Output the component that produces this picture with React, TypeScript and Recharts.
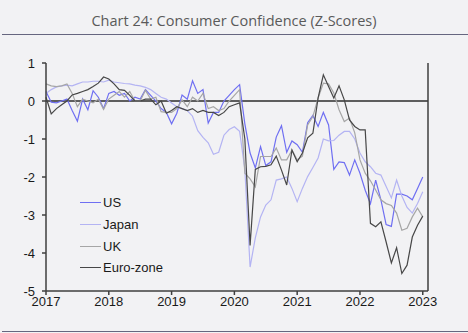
import React from "react";
import {
  CartesianGrid,
  Line,
  LineChart,
  ReferenceLine,
  XAxis,
  YAxis,
} from "recharts";

// monthly z-scores, Jan 2017 .. Jan 2023
const us = [
  0.25, -0.03, -0.05, 0.0, 0.05, -0.25, -0.53, 0.05, -0.23, 0.27, 0.1, -0.2,
  0.2, 0.25, 0.15, 0.2, 0.0, 0.1, 0.05, 0.3, 0.15, 0.0, -0.2, -0.3,
  -0.6, -0.32, 0.16, 0.05, 0.53, 0.2, 0.3, -0.58, -0.3, -0.3, 0.0, 0.15,
  0.3, 0.43, -0.6, -1.37, -1.76, -1.2, -1.7, -1.6, -0.95, -0.65, -1.35, -1.05,
  -1.15, -1.35, -0.57, -0.38, -0.67, -0.3, -0.63, -1.8, -1.6, -1.62, -1.95, -1.55,
  -1.9, -2.35, -2.7, -2.08, -2.6, -3.25, -3.3, -2.45, -2.45, -2.5, -2.6, -2.3,
  -2.0,
];
const japan = [
  0.2, 0.3, 0.37, 0.4, 0.42, 0.4, 0.45, 0.5, 0.5, 0.52, 0.52, 0.5,
  0.55, 0.5, 0.48, 0.46, 0.45, 0.42, 0.4, 0.36, 0.3, 0.2, 0.1, 0.05,
  -0.05, -0.15, -0.2, -0.25, -0.4, -0.78, -0.96, -1.1, -1.4, -1.35, -0.9, -0.75,
  -0.68, -0.8, -1.8, -4.37, -3.6, -3.05, -2.74, -2.6, -2.08, -2.05, -2.0, -2.3,
  -2.65, -2.3, -1.99, -1.75, -1.5, -1.0, -1.05, -1.04, -0.9, -0.8, -0.8, -1.0,
  -1.37, -1.6, -1.73, -1.9, -1.95, -2.25, -2.55, -2.08, -2.5, -2.8, -2.95, -2.7,
  -2.39,
];
const uk = [
  0.45, 0.4, 0.38, 0.4, 0.45, 0.2, -0.15, 0.05, 0.0, -0.05, 0.05, -0.22,
  0.05, 0.15, 0.25, 0.1, 0.25, 0.0, 0.0, 0.28, 0.05, 0.1, -0.28, -0.3,
  -0.3, -0.2, 0.03, -0.15, 0.1, 0.0, 0.2, -0.2, -0.15, -0.25, -0.2, 0.0,
  0.15, 0.3, -1.9, -2.05, -2.26, -1.46, -1.46, -1.46, -1.24, -1.55, -1.55, -1.29,
  -1.55, -1.45, -0.63, -0.41, 0.08, 0.47, 0.45, 0.21, -0.23, -0.54, -0.45, -0.84,
  -1.55, -1.9, -2.1, -2.34, -2.6, -2.7, -2.75, -2.95, -3.4, -3.35, -3.05, -2.82,
  -3.05,
];
const euro = [
  0.1, -0.34, -0.2, -0.1, 0.0, 0.16, 0.2, 0.25, 0.3, 0.38, 0.47, 0.63,
  0.58, 0.45, 0.3, 0.28, 0.15, 0.0, 0.0, 0.05, 0.05, -0.1, 0.0, -0.32,
  -0.25, -0.15, -0.2, -0.25, -0.2, -0.3, -0.25, -0.3, -0.3, -0.38, -0.3, -0.15,
  -0.1, -0.05, -1.0, -3.8, -1.8, -1.73, -1.72, -1.68, -1.45, -1.82, -2.21, -1.29,
  -1.6, -1.37, -0.97, -0.85, 0.08, 0.69, 0.38, 0.08, 0.4, 0.03, -0.5, -0.67,
  -0.76, -0.76, -3.22, -3.31, -3.18, -3.71, -4.26, -3.86, -4.54, -4.32, -3.58, -3.27,
  -3.03,
];

const yearTicks = [0, 12, 24, 36, 48, 60, 72];
const yearLabels = ["2017", "2018", "2019", "2020", "2021", "2022", "2023"];
const yTicks = [-5, -4, -3, -2, -1, 0, 1];

const seriesDefs = [
  { key: "us", name: "US", color: "#6f6ff2" },
  { key: "japan", name: "Japan", color: "#b4b4f3" },
  { key: "uk", name: "UK", color: "#a6a6a6" },
  { key: "euro", name: "Euro-zone", color: "#474747" },
];

const data = us.map((v, i) => ({
  t: i,
  us: v,
  japan: japan[i],
  uk: uk[i],
  euro: euro[i],
}));

const axisFont = "'Liberation Sans', Arial, sans-serif";
const tickStyle = { fill: "#1a1a1a", fontSize: 13, fontFamily: axisFont };
const axisColor = "#3f3f3f";

function LegendBox() {
  return (
    <div
      style={{
        position: "absolute",
        left: 80,
        top: 192,
        fontFamily: axisFont,
        fontSize: 13,
        color: "#1a1a1a",
      }}
    >
      {seriesDefs.map((s) => (
        <div
          key={s.key}
          style={{ display: "flex", alignItems: "center", height: 21.7 }}
        >
          <div
            style={{
              width: 21,
              height: 0,
              borderTop: `1.3px solid ${s.color}`,
              marginRight: 2,
            }}
          />
          <span>{s.name}</span>
        </div>
      ))}
    </div>
  );
}

export default function App() {
  return (
    <div
      style={{
        position: "absolute",
        left: 0,
        top: 0,
        width: 468,
        height: 333,
        background: "#f2f2f4",
        overflow: "hidden",
      }}
    >
      <div
        style={{
          position: "absolute",
          left: 0,
          top: 12,
          width: 468,
          textAlign: "center",
          fontFamily: "'Open Sans', sans-serif",
          fontSize: 14.5,
          lineHeight: "18px",
          color: "#5a5a5a",
        }}
      >
        Chart 24: Consumer Confidence (Z-Scores)
      </div>
      <div
        style={{
          position: "absolute",
          left: 2,
          top: 33.5,
          width: 466,
          borderTop: "1px solid #66667f",
        }}
      />
      <div
        style={{
          position: "absolute",
          left: 2,
          top: 331,
          width: 466,
          borderTop: "1px solid #66667f",
        }}
      />
      <LineChart
        width={468}
        height={333}
        data={data}
        margin={{ top: 63, right: 0, left: 0, bottom: 0 }}
        style={{ position: "absolute", left: 0, top: 0 }}
      >
        <CartesianGrid stroke="none" />
        <XAxis
          dataKey="t"
          type="number"
          domain={[0, 73]}
          ticks={yearTicks}
          tickFormatter={(v) => yearLabels[yearTicks.indexOf(v)] ?? ""}
          height={42}
          tick={tickStyle}
          tickSize={4}
          tickMargin={2}
          stroke={axisColor}
          strokeWidth={1.5}
          interval={0}
        />
        <YAxis
          yAxisId="left"
          domain={[-5, 1]}
          ticks={yTicks}
          width={46}
          tick={tickStyle}
          tickSize={4}
          tickMargin={7}
          stroke={axisColor}
          strokeWidth={1.5}
          interval={0}
        />
        <YAxis
          yAxisId="right"
          orientation="right"
          domain={[-5, 1]}
          ticks={yTicks}
          width={40}
          tick={{ ...tickStyle, textAnchor: "start" }}
          tickSize={4}
          tickMargin={7}
          stroke={axisColor}
          strokeWidth={1.5}
          interval={0}
        />
        <ReferenceLine
          yAxisId="left"
          y={0}
          stroke="#5e5e5e"
          strokeWidth={2}
        />
        {seriesDefs.map((s) => (
          <Line
            key={s.key}
            yAxisId="left"
            type="linear"
            dataKey={s.key}
            name={s.name}
            stroke={s.color}
            strokeWidth={1.2}
            dot={false}
            isAnimationActive={false}
          />
        ))}
      </LineChart>
      <LegendBox />
    </div>
  );
}
